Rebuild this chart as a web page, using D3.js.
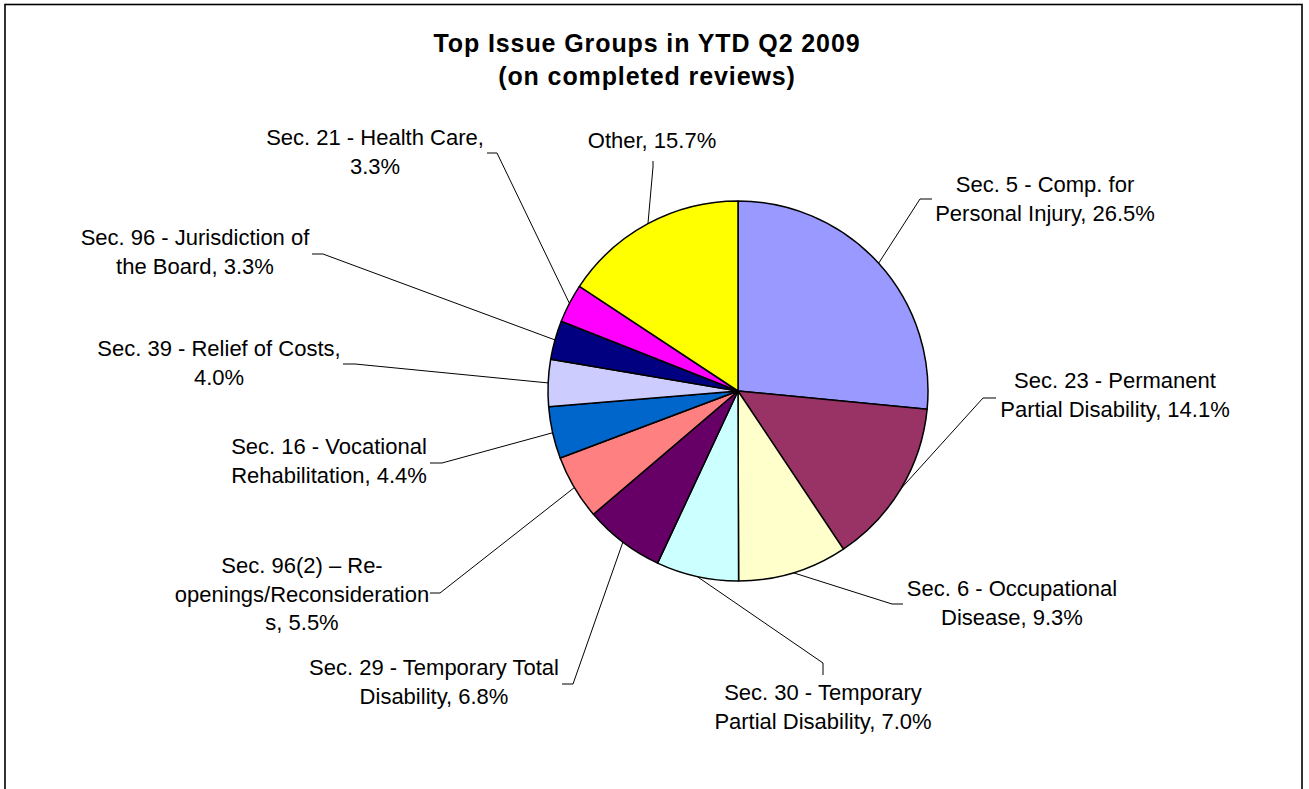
<!DOCTYPE html>
<html>
<head>
<meta charset="utf-8">
<script src="https://cdn.jsdelivr.net/npm/d3@7/dist/d3.min.js"></script>
<style>
  html, body { margin: 0; padding: 0; background: #fff; }
  svg text { font-family: "Liberation Sans", Arial, sans-serif; fill: #000; }
</style>
</head>
<body>
<svg id="chart" width="1309" height="789"></svg>
<script>
// ---- data ----
const categories = [
  "Sec. 5 - Comp. for Personal Injury",
  "Sec. 23 - Permanent Partial Disability",
  "Sec. 6 - Occupational Disease",
  "Sec. 30 - Temporary Partial Disability",
  "Sec. 29 - Temporary Total Disability",
  "Sec. 96(2) – Re-openings/Reconsiderations",
  "Sec. 16 - Vocational Rehabilitation",
  "Sec. 39 - Relief of Costs",
  "Sec. 96 - Jurisdiction of the Board",
  "Sec. 21 - Health Care",
  "Other"
];
const values = [26.5, 14.1, 9.3, 7.0, 6.8, 5.5, 4.4, 4.0, 3.3, 3.3, 15.7];
const labelLines = [
  ["Sec. 5 - Comp. for", "Personal Injury, 26.5%"],
  ["Sec. 23 - Permanent", "Partial Disability, 14.1%"],
  ["Sec. 6 - Occupational", "Disease, 9.3%"],
  ["Sec. 30 - Temporary", "Partial Disability, 7.0%"],
  ["Sec. 29 - Temporary Total", "Disability, 6.8%"],
  ["Sec. 96(2) – Re-", "openings/Reconsideration", "s, 5.5%"],
  ["Sec. 16 - Vocational", "Rehabilitation, 4.4%"],
  ["Sec. 39 - Relief of Costs,", "4.0%"],
  ["Sec. 96 - Jurisdiction of", "the Board, 3.3%"],
  ["Sec. 21 - Health Care,", "3.3%"],
  ["Other, 15.7%"]
];
const colors = ["#9999FF", "#993366", "#FFFFCC", "#CCFFFF", "#660066", "#FF8080",
                "#0066CC", "#CCCCFF", "#000080", "#FF00FF", "#FFFF00"];
const titleLines = ["Top Issue Groups in YTD Q2 2009", "(on completed reviews)"];

// ---- layout (label placement) ----
const layout = [
  { x: 1045, y: 192, path: [[920, 199], [932, 199]] },
  { x: 1115, y: 388, path: [[983, 398], [996, 398]] },
  { x: 1012, y: 596, path: [[892, 604], [903, 604]] },
  { x: 823,  y: 700, path: [[823, 663], [823, 675]] },
  { x: 434,  y: 675, path: [[573, 684], [562, 684]] },
  { x: 302,  y: 573, path: [[440, 593], [430, 593]] },
  { x: 329,  y: 454, path: [[442, 463], [430, 463]] },
  { x: 219,  y: 356, path: [[355, 364], [343, 364]] },
  { x: 195,  y: 245, path: [[323, 254], [312, 254]] },
  { x: 375,  y: 145, path: [[497, 153], [487, 153]] },
  { x: 652,  y: 148, path: [[653, 167], [653, 161]] }
];

const svg = d3.select("#chart");
const W = 1309, H = 789;
const cx = 738, cy = 391, R = 190;
const fontSize = 22, lineH = 28.5;

svg.append("rect").attr("width", W).attr("height", H).attr("fill", "#fff");
svg.append("rect")
  .attr("x", 5).attr("y", 4.5).attr("width", 1297).attr("height", 800)
  .attr("fill", "none").attr("stroke", "#000").attr("stroke-width", 1.6);

// title
const title = svg.append("text")
  .attr("text-anchor", "middle")
  .attr("font-weight", "bold")
  .attr("font-size", 25)
  .attr("letter-spacing", 0.9);
titleLines.forEach((t, i) => {
  title.append("tspan").attr("x", 647).attr("y", 52 + i * 33).text(t);
});

const pie = d3.pie().sort(null).value(d => d).startAngle(0).endAngle(2 * Math.PI);
const arcs = pie(values);
const arc = d3.arc().innerRadius(0).outerRadius(R);

const g = svg.append("g").attr("transform", `translate(${cx},${cy})`);
g.selectAll("path.slice")
  .data(arcs)
  .join("path")
  .attr("class", "slice")
  .attr("d", arc)
  .attr("fill", (d, i) => colors[i])
  .attr("stroke", "#000")
  .attr("stroke-width", 1.5)
  .attr("stroke-linejoin", "round");

// leader lines
const line = d3.line();
arcs.forEach((d, i) => {
  const a = (d.startAngle + d.endAngle) / 2;
  const p0 = [cx + R * Math.sin(a), cy - R * Math.cos(a)];
  const pts = [p0].concat(layout[i].path);
  svg.append("path")
    .attr("d", line(pts))
    .attr("fill", "none")
    .attr("stroke", "#000")
    .attr("stroke-width", 1);
});

// labels
arcs.forEach((d, i) => {
  const t = svg.append("text")
    .attr("text-anchor", "middle")
    .attr("font-size", fontSize);
  labelLines[i].forEach((s, j) => {
    t.append("tspan").attr("x", layout[i].x).attr("y", layout[i].y + j * lineH).text(s);
  });
});
</script>
</body>
</html>
